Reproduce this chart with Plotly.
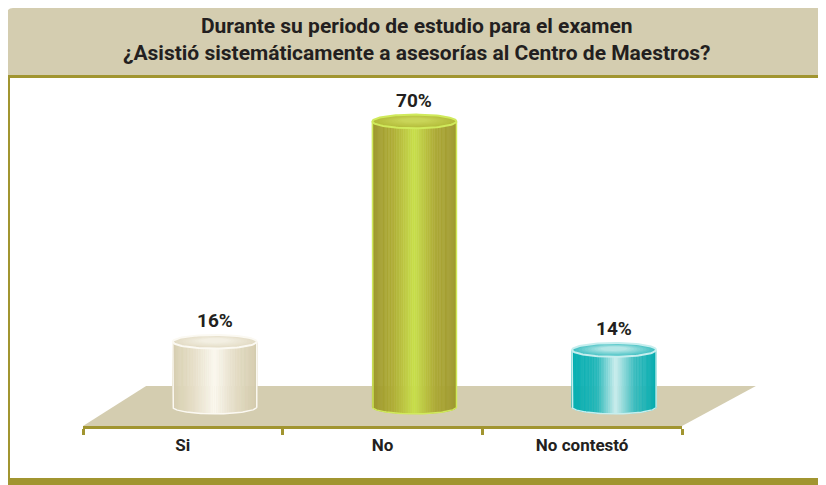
import numpy as np
import plotly.graph_objects as go

# ---------------- data ----------------
categories = ["Si", "No", "No contestó"]
values = [16, 70, 14]
value_labels = ["16%", "70%", "14%"]
title_lines = ["Durante su periodo de estudio para el examen",
               "¿Asistió sistemáticamente a asesorías al Centro de Maestros?"]

# ---------------- styles ----------------
W, H = 826, 485
OLIVE = "#a19530"
BAND = "#d4cdb0"
FLOOR = "#d4cdb0"
TEXT = "#231f20"
FONT = "Roboto, Arial, sans-serif"

STYLES = [
    dict(body=[(0, "#d6ceb0"), (0.25, "#e6dfc8"), (0.5, "#fbf8ef"), (0.75, "#e4ddc6"), (1, "#d4cbad")],
         top=("#e2dbc4", "#f3efe2"), rim="#fbf9f2"),
    dict(body=[(0, "#9c962c"), (0.25, "#b0ae38"), (0.5, "#c9e04c"), (0.75, "#aeaa38"), (1, "#9e982e")],
         top=("#b3bb3a", "#c9d558"), rim="#d0ea5c"),
    dict(body=[(0, "#00adb0"), (0.3, "#27b8ba"), (0.52, "#cdeeee"), (0.75, "#3bbcbe"), (1, "#03acaf")],
         top=("#40c0c2", "#b4e6e6"), rim="#c6eeee"),
]

# page is shown with an 8px body margin, so figure pixels = screen pixels - 8
X_PER = 199.67   # px per category
X0_PX = 75       # figure pixel of category boundary -0.5
Y_PER = 4.08     # px per percent
Y0_PX = 399      # figure pixel of value 0
x_range = [-0.5 - X0_PX / X_PER, -0.5 + (W - X0_PX) / X_PER]
y_range = [-(H - Y0_PX) / Y_PER, Y0_PX / Y_PER]

RX = 42 / X_PER
RY = 6.8 / Y_PER
DEPTH = 0.16
AXIS_PX = 419
FRONT = -(AXIS_PX - 1 - Y0_PX) / Y_PER
BACK = (Y0_PX - 378) / Y_PER


def hex2rgb(h):
    h = h.lstrip("#")
    return np.array([int(h[i:i + 2], 16) for i in (0, 2, 4)], float)


def grad(stops, t):
    for (t0, c0), (t1, c1) in zip(stops[:-1], stops[1:]):
        if t <= t1:
            f = (t - t0) / (t1 - t0) if t1 > t0 else 0
            c = hex2rgb(c0) * (1 - f) + hex2rgb(c1) * f
            return "rgb(%d,%d,%d)" % tuple(np.round(c))
    c = hex2rgb(stops[-1][1])
    return "rgb(%d,%d,%d)" % tuple(c)


def mix(c0, c1, f):
    c = hex2rgb(c0) * (1 - f) + hex2rgb(c1) * f
    return "rgb(%d,%d,%d)" % tuple(np.round(c))


fig = go.Figure()

# floor
fig.add_trace(go.Scatter(
    x=[-0.5, 2.5, 2.5 + 0.37, -0.5 + 0.316, -0.5],
    y=[FRONT, FRONT, BACK, BACK, FRONT],
    fill="toself", fillcolor=FLOOR, mode="lines", line=dict(width=0),
    hoverinfo="skip", showlegend=False))

# cylinders
N = 70
for i, (v, st) in enumerate(zip(values, STYLES)):
    cx = i + DEPTH
    thetas = np.linspace(np.pi, 0, N + 1)
    for a, b in zip(thetas[:-1], thetas[1:]):
        th = np.linspace(a, b, 3)
        xs = cx + RX * np.cos(th)
        top = v - RY * np.sin(th)
        bot = 0 - RY * np.sin(th)
        t = (cx + RX * np.cos((a + b) / 2) - (cx - RX)) / (2 * RX)
        col = grad(st["body"], t)
        fig.add_trace(go.Scatter(
            x=np.concatenate([xs, xs[::-1], xs[:1]]),
            y=np.concatenate([top, bot[::-1], top[:1]]),
            fill="toself", fillcolor=col, mode="lines",
            line=dict(width=0.6, color=col), hoverinfo="skip", showlegend=False))
    th = np.linspace(np.pi, 0, 80)
    ox = np.concatenate([[cx - RX], cx + RX * np.cos(th), [cx + RX]])
    oy = np.concatenate([[v], 0 - RY * np.sin(th), [v]])
    fig.add_trace(go.Scatter(x=ox, y=oy, mode="lines",
                             line=dict(width=1.5, color=st["rim"]),
                             hoverinfo="skip", showlegend=False))
    full = np.linspace(0, 2 * np.pi, 100)
    steps = 10
    for k in range(steps):
        s = 1 - k / steps * 0.75
        f = k / (steps - 1)
        col = mix(st["top"][0], st["top"][1], f)
        fig.add_trace(go.Scatter(
            x=cx + RX * s * np.cos(full),
            y=v + RY * s * np.sin(full) + RY * 0.25 * (1 - s),
            fill="toself", fillcolor=col, mode="lines",
            line=dict(width=0), hoverinfo="skip", showlegend=False))
    fig.add_trace(go.Scatter(
        x=cx + RX * np.cos(full), y=v + RY * np.sin(full), mode="lines",
        line=dict(width=2, color=st["rim"]), hoverinfo="skip", showlegend=False))
    fig.add_annotation(x=cx, y=v + RY, xref="x", yref="y", text=value_labels[i],
                       showarrow=False, yanchor="bottom", yshift=1,
                       font=dict(family=FONT, size=19, color=TEXT, weight="bold"))

# category axis along the front edge of the floor
fig.add_trace(go.Scatter(x=[0, 1, 2], y=[None, None, None], xaxis="x2", yaxis="y",
                         mode="markers", hoverinfo="skip", showlegend=False))


def px_x(p):
    return p / W


def px_y(p):
    return 1 - p / H


r = 6
band_path = (f"M {px_x(-1)},{px_y(67)} L {px_x(-1)},{px_y(0 + r)} "
             f"Q {px_x(-1)},{px_y(0)} {px_x(-1 + r)},{px_y(0)} "
             f"L {px_x(W)},{px_y(0)} L {px_x(W)},{px_y(67)} Z")
shapes = [
    dict(type="path", xref="paper", yref="paper", path=band_path,
         fillcolor=BAND, line=dict(width=0), layer="below"),
    dict(type="rect", xref="paper", yref="paper", x0=px_x(-1), x1=1,
         y0=px_y(70), y1=px_y(67), fillcolor=OLIVE, line=dict(width=0)),
    dict(type="rect", xref="paper", yref="paper", x0=px_x(0), x1=px_x(2),
         y0=px_y(472), y1=px_y(69), fillcolor=OLIVE, line=dict(width=0)),
    dict(type="rect", xref="paper", yref="paper", x0=px_x(0), x1=1,
         y0=px_y(477), y1=px_y(470), fillcolor=OLIVE, line=dict(width=0)),
]

fig.add_annotation(x=px_x(409), y=px_y(32), xref="paper", yref="paper",
                   text=title_lines[0] + "<br>" + title_lines[1], showarrow=False,
                   align="center", yanchor="middle", xanchor="center",
                   font=dict(family=FONT, size=21, color=TEXT, weight="bold"))

fig.update_layout(
    width=W, height=H, margin=dict(l=0, r=0, t=0, b=0),
    paper_bgcolor="white", plot_bgcolor="rgba(0,0,0,0)",
    shapes=shapes,
    xaxis=dict(range=x_range, visible=False, fixedrange=True),
    yaxis=dict(range=y_range, visible=False, fixedrange=True),
    xaxis2=dict(range=[-0.5, 2.5], domain=[px_x(75), px_x(674)],
                anchor="free", position=px_y(AXIS_PX),
                showline=True, linecolor=OLIVE, linewidth=2.5,
                showgrid=False, zeroline=False,
                tickvals=[0, 1, 2], ticktext=categories, ticks="",
                ticklabelstandoff=2,
                tickfont=dict(family=FONT, size=17, color=TEXT, weight="bold"),
                minor=dict(tickvals=[-0.5, 0.5, 1.5, 2.5], ticks="outside",
                           ticklen=6, tickwidth=2.5, tickcolor=OLIVE, showgrid=False),
                fixedrange=True),
    font=dict(family=FONT, color=TEXT),
)

fig.write_html("out.html")
